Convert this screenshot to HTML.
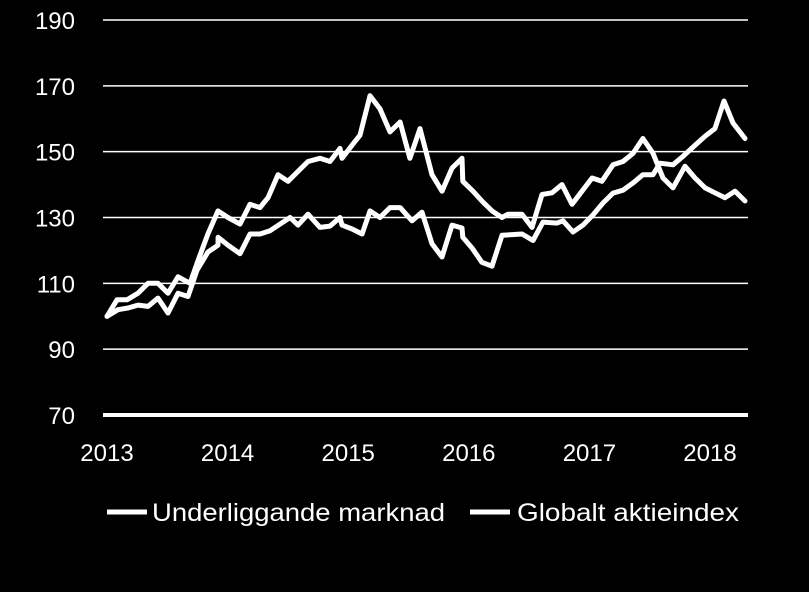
<!DOCTYPE html>
<html><head><meta charset="utf-8"><style>
html,body{margin:0;padding:0;background:#000;}
svg{display:block;font-family:"Liberation Sans",sans-serif;}
</style></head><body>
<svg id="chart" width="809" height="592" viewBox="0 0 809 592">
<rect width="809" height="592" fill="#000"/>
<g id="grid"></g><g id="axes"></g><g id="series"></g><g id="legend"></g>
</svg>
<script>
const yTicks=[70,90,110,130,150,170,190];
const xTickLabels=["2013","2014","2015","2016","2017","2018"];
const seriesNames=["Underliggande marknad","Globalt aktieindex"];
const seriesAYears=[0,.083,.166,.257,.34,.423,.506,.589,.688,.755,.837,.92,1.003,1.103,1.186,1.269,1.335,1.418,1.501,1.584,1.667,1.766,1.849,1.932,1.949,2.032,2.098,2.181,2.264,2.347,2.43,2.512,2.595,2.695,2.778,2.861,2.944,2.95,3.035,3.109,3.192,3.275,3.325,3.441,3.524,3.607,3.69,3.773,3.856,3.939,4.022,4.104,4.196,4.279,4.362,4.444,4.527,4.61,4.693,4.793,4.876,4.959,5.041,5.124,5.207,5.29];
const seriesAValues=[100,105,105,107,110,110,107,112,110,117,125,132,130,128,134,133,136,143,141,144,147,148,147,151,148,152,155,167,163,156,159,148,157,143,138,145,148,141,138,135,132,130,131,131,127,137,137.5,140,134,138,142,141,146,147,149.5,154,149.5,142,139,145.6,142,139,137.5,136,138,135];
const seriesBYears=[0,.091,.174,.257,.34,.423,.506,.589,.672,.746,.837,.92,.921,1.003,1.103,1.186,1.269,1.352,1.435,1.518,1.584,1.667,1.766,1.849,1.932,1.949,2.032,2.115,2.181,2.264,2.347,2.43,2.529,2.612,2.695,2.778,2.861,2.944,2.95,3.027,3.109,3.192,3.275,3.441,3.532,3.615,3.731,3.781,3.864,3.947,4.03,4.113,4.196,4.279,4.362,4.444,4.527,4.585,4.693,4.776,4.859,4.959,5.041,5.116,5.191,5.29];
const seriesBValues=[100,102,102.5,103.4,103,105.5,101,107,106,114,119.5,121.6,124,121.6,119,125,125,126,128,130,127.7,131,127,127.4,130,127.7,126.5,125,132,130,133,133,129,131.6,122,118,127.7,126.8,124,120.7,116.4,115.2,124.6,125,123,128.6,128.3,129,125.6,127.7,130.8,134.4,137.4,138.3,140.5,143,143,146.5,146,148.6,151.4,154.7,157,165.4,158.7,154];
const NS="http://www.w3.org/2000/svg";
const X0=103,X1=748,Y_TOP=20,Y_BOT=415;
function xScale(yr){return 107+yr*120.6;}
function yScale(v){return Y_BOT-(v-70)/(190-70)*(Y_BOT-Y_TOP);}
function mk(tag,attrs,parent){const e=document.createElementNS(NS,tag);for(const k in attrs)e.setAttribute(k,attrs[k]);parent.appendChild(e);return e;}
const grid=document.getElementById('grid'),axes=document.getElementById('axes'),ser=document.getElementById('series'),leg=document.getElementById('legend');
yTicks.forEach(v=>{
  const y=yScale(v);
  const l=mk('line',{x1:X0,x2:X1,y1:y,y2:y,stroke:'#fff','stroke-width':v===70?4:1.5},grid);
  
  
  const t=mk('text',{x:75,y:y+9,'text-anchor':'end',fill:'#fff','font-size':24},axes);
  t.textContent=v;
  
  
});
xTickLabels.forEach((lab,i)=>{
  const t=mk('text',{x:xScale(i),y:461,'text-anchor':'middle',fill:'#fff','font-size':24},axes);
  t.textContent=lab;
  
  
});
function path(xs,vs){return xs.map((x,i)=>(i?'L':'M')+xScale(x).toFixed(1)+','+yScale(vs[i]).toFixed(1)).join(' ');}
const pA=mk('path',{d:path(seriesAYears,seriesAValues),fill:'none',stroke:'#fff','stroke-width':5,'stroke-linejoin':'round','stroke-linecap':'round'},ser);


const pB=mk('path',{d:path(seriesBYears,seriesBValues),fill:'none',stroke:'#fff','stroke-width':5,'stroke-linejoin':'round','stroke-linecap':'round'},ser);


[[107,152,293],[470,517,222]].forEach((p,i)=>{
  const l=mk('line',{x1:p[0],x2:p[0]+40,y1:512,y2:512,stroke:'#fff','stroke-width':5},leg);
  
  
  const t=mk('text',{x:p[1],y:521,fill:'#fff','font-size':25,textLength:p[2],lengthAdjust:'spacingAndGlyphs'},leg);
  t.textContent=seriesNames[i];
  
  
});
</script>
</body></html>
